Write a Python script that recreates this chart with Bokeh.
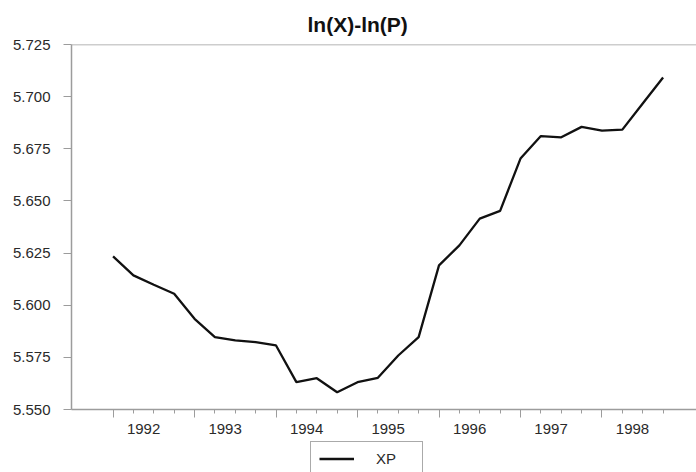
from bokeh.plotting import figure
from bokeh.layouts import column
from bokeh.models import (Range1d, FixedTicker, LinearAxis, Legend, LegendItem,
                          NumeralTickFormatter, Span, ColumnDataSource)
from bokeh.embed import file_html
from bokeh.resources import INLINE

xp = [5.6234, 5.6143, 5.6098, 5.6055, 5.5935, 5.5847, 5.5831, 5.5823,
      5.5807, 5.5631, 5.5650, 5.5583, 5.5631, 5.5652, 5.5759, 5.5847,
      5.6191, 5.6287, 5.6415, 5.6452, 5.6703, 5.6811, 5.6805, 5.6855,
      5.6837, 5.6842, 5.6967, 5.7092]
years = [1992, 1993, 1994, 1995, 1996, 1997, 1998]
y_ticks = [5.550, 5.575, 5.600, 5.625, 5.650, 5.675, 5.700, 5.725]
series_name = "XP"
title_text = "ln(X)-ln(P)"

obs = list(range(len(xp)))
year_starts = [4 * k for k in range(len(years))]
year_label_pos = [4 * k + 1.5 for k in range(len(years))]

FONT = "Liberation Sans"
GRAY = "#9c9c9c"
TXT = "#2a2a2a"
LINE = "#111111"

src = ColumnDataSource(dict(x=obs, y=xp))

p = figure(width=696, height=441, output_backend="svg", toolbar_location=None,
           x_range=Range1d(-2.04, 28.64), y_range=Range1d(5.55, 5.725),
           x_axis_type=None, min_border_left=71, min_border_right=0,
           min_border_top=44, min_border_bottom=32)
p.grid.visible = False
p.outline_line_color = None
p.background_fill_color = "white"
p.border_fill_color = "white"

# title
p.title.text = title_text
p.title.text_font = FONT
p.title.text_font_size = "21px"
p.title.text_font_style = "bold"
p.title.text_color = "#111111"
p.title.align = "left"
p.title.offset = 236
p.title.standoff = 17

# y axis
ya = p.yaxis[0]
ya.ticker = FixedTicker(ticks=y_ticks)
ya.formatter = NumeralTickFormatter(format="0.000")
ya.axis_line_color = GRAY
ya.axis_line_width = 1.5
ya.major_tick_line_color = GRAY
ya.major_tick_out = 8
ya.major_tick_in = 0
ya.minor_tick_line_color = None
ya.major_label_standoff = 13
ya.major_label_text_font = FONT
ya.major_label_text_font_size = "15px"
ya.major_label_text_color = TXT

# x axis: ticks
xt = LinearAxis(ticker=FixedTicker(ticks=year_starts, minor_ticks=obs))
xt.axis_line_color = GRAY
xt.axis_line_width = 1.5
xt.major_tick_line_color = GRAY
xt.minor_tick_line_color = GRAY
xt.major_tick_out = 8
xt.major_tick_in = 0
xt.minor_tick_out = 4
xt.minor_tick_in = 0
xt.major_label_text_font_size = "0px"
xt.major_label_standoff = 0
xt.major_label_overrides = {s: "" for s in year_starts}
p.add_layout(xt, "below")

# x axis: year labels
xl = LinearAxis(ticker=FixedTicker(ticks=year_label_pos, minor_ticks=[]))
xl.axis_line_color = None
xl.major_tick_line_color = None
xl.minor_tick_line_color = None
xl.major_tick_out = 0
xl.major_tick_in = 0
xl.major_label_standoff = 6
xl.major_label_overrides = {pos: str(y) for pos, y in zip(year_label_pos, years)}
xl.major_label_text_font = FONT
xl.major_label_text_font_size = "15px"
xl.major_label_text_color = TXT
p.add_layout(xl, "below")

# top frame line
p.add_layout(Span(location=5.725, dimension="width", line_color=GRAY, line_width=1.5))

p.line("x", "y", source=src, line_color=LINE, line_width=2.3)

# ---- legend strip below the chart ----
pl = figure(width=696, height=31, output_backend="svg", toolbar_location=None,
            title=None, x_range=Range1d(1000, 1001), y_range=Range1d(0, 1),
            x_axis_type=None, y_axis_type=None, min_border=0,
            min_border_left=0, min_border_right=0, min_border_top=0, min_border_bottom=0)
pl.grid.visible = False
pl.outline_line_color = None
pl.background_fill_color = "white"
pl.border_fill_color = "white"
rl = pl.line("x", "y", source=src, line_color=LINE, line_width=2.3)

legend = Legend(items=[LegendItem(label=series_name, renderers=[rl])],
                location=(239, -4), orientation="vertical",
                border_line_color="#555555", border_line_width=1,
                background_fill_color="white", background_fill_alpha=1,
                padding=8, margin=0, spacing=0,
                glyph_width=35, glyph_height=17, label_height=17, label_width=38,
                label_standoff=22, label_text_font=FONT,
                label_text_font_size="15px", label_text_color=TXT)
pl.add_layout(legend, "center")

layout = column(p, pl, spacing=0)
open("out.html", "w").write(file_html(layout, INLINE))
